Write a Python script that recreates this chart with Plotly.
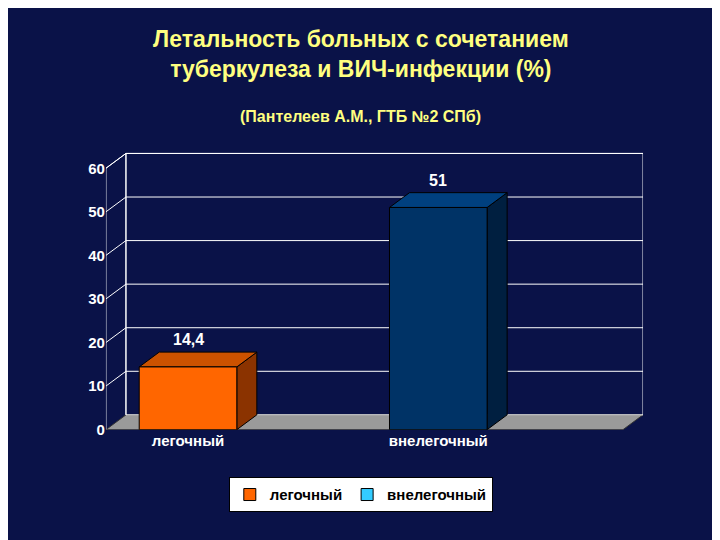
import plotly.graph_objects as go

categories = ["легочный", "внелегочный"]
values = [14.4, 51]
labels = ["14,4", "51"]
legend_colors = ["#FF6600", "#33CCFF"]
front_colors = ["#FF6600", "#003366"]
side_colors = ["#8B3300", "#001F40"]
top_colors = ["#CC5200", "#00407F"]
yticks = [0, 10, 20, 30, 40, 50, 60]

# pseudo-3d geometry (data units)
dx, dy = 0.08, 3.4
w = 0.39
x0, xr = -0.328, 1.818

fig = go.Figure()

def poly(xs, ys, fill, line="black", lw=1):
    fig.add_trace(go.Scatter(x=xs + [xs[0]], y=ys + [ys[0]], mode="lines", fill="toself",
                             fillcolor=fill, line=dict(color=line, width=lw),
                             showlegend=False, hoverinfo="skip"))

# floor
poly([x0, xr - dx, xr, x0 + dx], [0, 0, dy, dy], "#9a9a9a", "#333333")

# gridlines, left wall, back wall
for t in yticks[1:]:
    fig.add_trace(go.Scatter(x=[x0, x0 + dx, xr], y=[t, t + dy, t + dy], mode="lines",
                             line=dict(color="white", width=1), showlegend=False, hoverinfo="skip"))
fig.add_trace(go.Scatter(x=[x0, x0, x0 + dx, x0 + dx, xr, xr],
                         y=[0, 60, 60 + dy, dy, dy, 60 + dy], mode="lines",
                         line=dict(color="white", width=1), showlegend=False, hoverinfo="skip"))
fig.add_trace(go.Scatter(x=[x0 + dx, x0 + dx, xr], y=[dy, 60 + dy, 60 + dy], mode="lines",
                         line=dict(color="white", width=1), showlegend=False, hoverinfo="skip"))

# bars
for i, v in enumerate(values):
    l, r = i - w / 2, i + w / 2
    poly([r, r + dx, r + dx, r], [0, dy, v + dy, v], side_colors[i])
    poly([l, l + dx, r + dx, r], [v, v + dy, v + dy, v], top_colors[i])
    poly([l, r, r, l], [0, 0, v, v], front_colors[i])
    fig.add_annotation(x=i, y=v + dy, text="<b>" + labels[i] + "</b>", showarrow=False,
                       yanchor="bottom", yshift=2, font=dict(color="white", size=16, family="Arial"))

# legend entries
for c, col in zip(categories, legend_colors):
    fig.add_trace(go.Scatter(x=[None], y=[None], mode="markers", name=c,
                             marker=dict(symbol="square", size=12, color=col,
                                         line=dict(color="black", width=1))))

bold = dict(size=15, color="white", family="Arial", weight="bold")

fig.update_layout(
    width=720, height=540,
    paper_bgcolor="#0a1248", plot_bgcolor="rgba(0,0,0,0)",
    margin=dict(l=0, r=0, t=0, b=0),
    font=dict(family="Arial", color="white"),
    xaxis=dict(domain=[0.136, 0.882], range=[x0, xr], tickvals=[0, 1], ticktext=categories,
               showgrid=False, zeroline=False, showline=False, tickfont=bold, ticklen=0),
    yaxis=dict(domain=[0.2074, 0.7315], range=[0, 64], tickvals=yticks,
               showgrid=False, zeroline=False, showline=False, ticks="", tickfont=bold),
    legend=dict(orientation="h", x=0.49, xanchor="center", y=0.085, yanchor="middle",
                bgcolor="white", bordercolor="black", borderwidth=1,
                font=dict(color="black", size=15, family="Arial", weight="bold")),
    annotations=list(fig.layout.annotations) + [
        dict(text="<b>Летальность больных с сочетанием<br>туберкулеза и ВИЧ-инфекции (%)</b>",
             x=0.49, y=0.97, xref="paper", yref="paper", showarrow=False, yanchor="top",
             font=dict(size=23, color="#FFFF80", family="Arial")),
        dict(text="<b>(Пантелеев А.М., ГТБ №2 СПб)</b>",
             x=0.49, y=0.815, xref="paper", yref="paper", showarrow=False,
             font=dict(size=16, color="#FFFF80", family="Arial")),
    ],
)

fig.write_html("out.html")
